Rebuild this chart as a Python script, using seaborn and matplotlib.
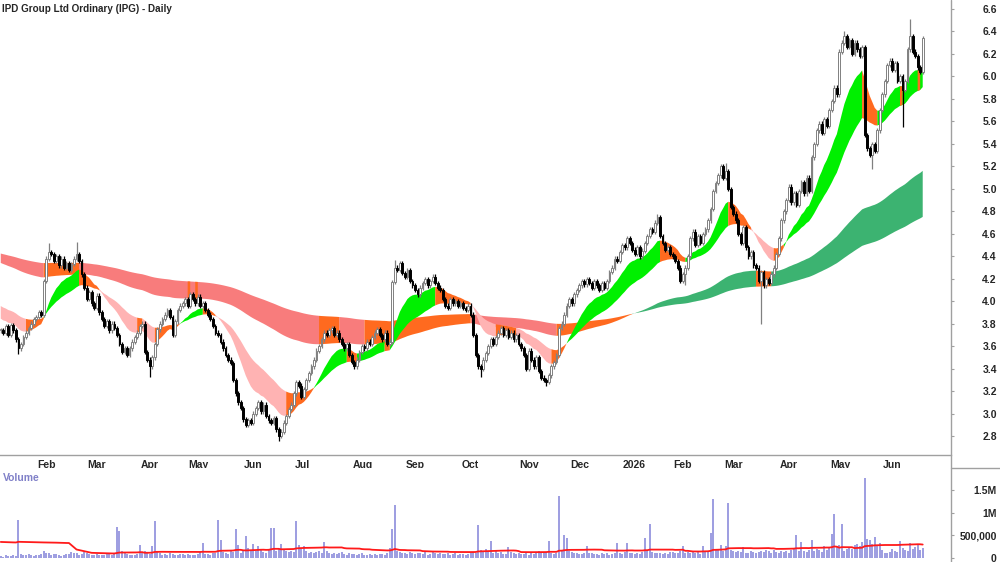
import numpy as np
import pandas as pd
import seaborn as sns
import matplotlib
matplotlib.use('Agg')
import matplotlib.pyplot as plt
import matplotlib.transforms as mtransforms
from matplotlib import font_manager
from matplotlib.lines import Line2D

# daily closes, 13 Jan 2025 .. late Jun 2026
close = [
    3.74, 3.72, 3.78, 3.70, 3.79, 3.74, 3.66, 3.58, 3.62, 3.68,
    3.72, 3.76, 3.80, 3.84, 3.86, 3.90, 3.88, 4.18, 4.38, 4.44,
    4.42, 4.36, 4.40, 4.32, 4.38, 4.30, 4.34, 4.28, 4.33, 4.38,
    4.42, 4.36, 4.24, 4.12, 4.02, 4.08, 3.98, 3.94, 4.05, 3.90,
    3.84, 3.78, 3.82, 3.74, 3.80, 3.76, 3.70, 3.62, 3.55, 3.58,
    3.52, 3.58, 3.64, 3.68, 3.72, 3.78, 3.80, 3.55, 3.48, 3.42,
    3.50, 3.62, 3.75, 3.80, 3.84, 3.88, 3.92, 3.86, 3.70, 3.82,
    3.92, 3.96, 3.98, 4.02, 3.96, 4.06, 4.02, 3.98, 4.04, 3.96,
    3.98, 3.92, 3.88, 3.84, 3.78, 3.72, 3.70, 3.64, 3.58, 3.52,
    3.48, 3.45, 3.30, 3.18, 3.10, 3.05, 2.95, 2.90, 2.94, 2.92,
    3.00, 3.05, 3.10, 3.02, 3.08, 2.98, 2.94, 2.92, 2.96, 2.86,
    2.80, 2.84, 2.92, 2.98, 3.04, 3.08, 3.18, 3.28, 3.25, 3.15,
    3.22, 3.30, 3.36, 3.42, 3.48, 3.56, 3.60, 3.66, 3.72, 3.70,
    3.74, 3.76, 3.70, 3.72, 3.66, 3.62, 3.58, 3.62, 3.52, 3.46,
    3.42, 3.48, 3.55, 3.60, 3.58, 3.64, 3.62, 3.68, 3.72, 3.75,
    3.70, 3.66, 3.72, 3.62, 3.64, 4.17, 4.30, 4.28, 4.34, 4.25,
    4.22, 4.28, 4.18, 4.14, 4.10, 4.06, 4.12, 4.16, 4.20, 4.14,
    4.18, 4.22, 4.16, 4.12, 4.10, 4.02, 3.96, 3.94, 4.02, 3.98,
    4.00, 3.96, 3.98, 3.94, 3.92, 3.96, 3.88, 3.70, 3.52, 3.42,
    3.40, 3.48, 3.54, 3.60, 3.66, 3.62, 3.68, 3.72, 3.76, 3.70,
    3.74, 3.68, 3.72, 3.66, 3.70, 3.62, 3.58, 3.52, 3.40, 3.56,
    3.48, 3.42, 3.50, 3.38, 3.32, 3.30, 3.28, 3.34, 3.42, 3.46,
    3.52, 3.76, 3.80, 3.88, 3.96, 4.02, 3.98, 4.06, 4.10, 4.14,
    4.18, 4.15, 4.20, 4.16, 4.12, 4.18, 4.14, 4.10, 4.16, 4.12,
    4.18, 4.26, 4.30, 4.38, 4.36, 4.44, 4.50, 4.48, 4.56, 4.52,
    4.46, 4.42, 4.48, 4.40, 4.45, 4.52, 4.58, 4.64, 4.62, 4.70,
    4.75, 4.58, 4.52, 4.46, 4.48, 4.42, 4.40, 4.36, 4.30, 4.18,
    4.24, 4.30, 4.40, 4.56, 4.62, 4.50, 4.58, 4.52, 4.60, 4.64,
    4.72, 4.82, 4.98, 5.05, 5.12, 5.20, 5.10, 5.16, 5.00, 4.84,
    4.78, 4.72, 4.60, 4.52, 4.66, 4.48, 4.40, 4.44, 4.32, 4.30,
    4.18, 4.26, 4.14, 4.20, 4.16, 4.24, 4.30, 4.42, 4.56, 4.72,
    4.80, 4.90, 5.02, 4.88, 4.96, 4.86, 4.98, 5.06, 4.96, 5.10,
    4.98, 5.28, 5.40, 5.52, 5.58, 5.50, 5.62, 5.56, 5.70, 5.78,
    5.90, 5.84, 6.22, 6.30, 6.36, 6.26, 6.32, 6.20, 6.30, 6.24,
    6.18, 6.26, 5.48, 5.36, 5.30, 5.40, 5.34, 5.52, 5.70, 5.84,
    5.96, 6.10, 6.14, 6.06, 6.12, 5.96, 6.00, 5.88, 5.96, 6.24,
    6.36, 6.22, 6.18, 6.08, 6.04, 6.34,
]

# daily volume in thousands
volume_k = [
    40, 30, 60, 45, 50, 70, 55, 830, 90, 70,
    60, 80, 75, 55, 65, 70, 90, 160, 120, 110,
    75, 80, 90, 60, 55, 70, 80, 95, 140, 120,
    110, 70, 90, 130, 100, 80, 60, 70, 85, 60,
    75, 65, 90, 80, 70, 110, 680, 590, 150, 120,
    80, 75, 70, 60, 95, 295, 120, 150, 110, 90,
    257, 815, 140, 100, 70, 80, 60, 110, 95, 75,
    70, 80, 95, 65, 85, 70, 60, 75, 90, 130,
    320, 95, 80, 70, 110, 100, 830, 390, 140, 120,
    90, 180, 130, 630, 280, 110, 150, 490, 230, 160,
    300, 150, 260, 180, 140, 120, 170, 670, 670, 150,
    200, 300, 180, 160, 140, 150, 130, 810, 280, 200,
    270, 160, 120, 140, 110, 130, 150, 110, 345, 150,
    120, 90, 110, 80, 100, 130, 90, 75, 110, 95,
    80, 70, 95, 110, 75, 60, 90, 70, 85, 65,
    80, 95, 70, 110, 230, 630, 1170, 150, 130, 120,
    110, 95, 130, 100, 85, 120, 110, 90, 150, 75,
    90, 130, 100, 85, 110, 80, 95, 120, 70, 85,
    100, 75, 90, 80, 70, 95, 120, 140, 110, 735,
    180, 150, 200, 130, 370, 120, 150, 110, 140, 90,
    80, 240, 130, 100, 90, 110, 85, 95, 140, 75,
    100, 90, 110, 160, 130, 120, 140, 370, 110, 90,
    100, 1360, 150, 500, 450, 160, 130, 120, 100, 90,
    85, 110, 257, 120, 100, 95, 80, 70, 110, 90,
    100, 75, 95, 120, 330, 110, 90, 130, 330, 120,
    100, 85, 110, 90, 130, 430, 150, 740, 140, 110,
    120, 100, 95, 110, 85, 130, 140, 100, 120, 150,
    257, 110, 130, 100, 160, 120, 140, 90, 257, 150,
    130, 560, 1290, 200, 180, 290, 160, 260, 1220, 180,
    150, 130, 160, 140, 250, 120, 100, 150, 130, 110,
    140, 160, 130, 180, 150, 120, 170, 140, 110, 160,
    130, 150, 120, 180, 210, 500, 150, 345, 160, 130,
    180, 400, 150, 200, 170, 140, 260, 180, 220, 520,
    977, 240, 280, 757, 160, 190, 230, 200, 280, 310,
    270, 350, 1770, 420, 400, 300, 470, 260, 330, 180,
    110, 120, 140, 200, 160, 130, 365, 220, 180, 150,
    320, 190, 250, 310, 170, 210,
]

# sessions before the first bar, only used to start the 50 day volume average
vol_pre_k = [
    150, 120, 180, 140, 160, 130, 110, 170, 150, 140,
    160, 130, 150, 170, 120, 140, 180, 150, 130, 160,
    140, 150, 170, 140, 160, 130, 150,
    2500, 2600, 2400,
    700, 750, 680, 720, 650, 700,
    160, 140, 180, 150, 130, 170, 150, 160, 140, 120, 150, 130, 160,
]

# long wicks visible on the chart (bar index: price)
wick_high = {19: 4.52, 30: 4.53, 156: 4.37, 260: 4.78, 287: 5.23, 334: 6.40, 360: 6.51}
wick_low = {7: 3.53, 59: 3.33, 110: 2.76, 190: 3.33, 216: 3.25, 271: 4.14,
            301: 3.80, 345: 5.18, 357: 5.55}

# moving average levels at the left edge (fast, slow)
short_seed = (3.86, 3.97)
long_seed = (4.35, 4.43)

asx_holidays = ['2025-01-27', '2025-04-18', '2025-04-21', '2025-04-25', '2025-06-09',
                '2025-12-25', '2025-12-26', '2026-01-01', '2026-01-26', '2026-04-03',
                '2026-04-06', '2026-06-08']

dates = pd.bdate_range('2025-01-13', periods=len(close), freq='C', holidays=asx_holidays)
df = pd.DataFrame({'date': dates, 'close': close, 'volume': np.array(volume_k) * 1000.0})
df['i'] = np.arange(len(df))
df['open'] = df['close'].shift(1).fillna(df['close'])
df['high'] = df[['open', 'close']].max(axis=1) + 0.02
df['low'] = df[['open', 'close']].min(axis=1) - 0.02
for k, v in wick_high.items():
    df.loc[k, 'high'] = v
for k, v in wick_low.items():
    df.loc[k, 'low'] = v

vol_all = pd.Series(np.r_[vol_pre_k, volume_k] * 1000.0)
df['vol_ma'] = vol_all.rolling(50).mean().iloc[len(vol_pre_k):].to_numpy()


def ema(span, seed):
    s = pd.concat([pd.Series([seed]), df['close']], ignore_index=True)
    return s.ewm(span=span, adjust=False).mean().to_numpy()


def draw_band(ax, fast, slow, up_col, down_col, mixed_col):
    # fast / slow include the seed as element 0
    rising = np.diff(fast) > 0
    fast, slow = fast[1:], slow[1:]
    above = fast > slow
    lo, hi = np.minimum(fast, slow), np.maximum(fast, slow)
    state = np.where(above & rising, 0, np.where(~above & ~rising, 1, 2))
    for k, c in enumerate([up_col, down_col, mixed_col]):
        m = state == k
        m = m | np.r_[m[1:], False]
        ax.fill_between(df['i'], lo, hi, where=m, color=c, lw=0, zorder=1)


sns.set_theme(style='white')
names = {f.name for f in font_manager.fontManager.ttflist}
narrow = 'Liberation Sans Narrow' in names
plt.rcParams['font.family'] = ['Liberation Sans Narrow', 'Liberation Sans', 'DejaVu Sans']
fs = 9 if narrow else 7.5

fig = plt.figure(figsize=(10, 5.62), dpi=100)
ax = fig.add_axes([0, 107 / 562, 0.951, 455 / 562])
axv = fig.add_axes([0, 0, 0.951, 94 / 562])

GREEN, ORANGE, PINK = '#00f000', '#ff6a1f', '#ffb3b3'
RED, DKGREEN = '#f87c7c', '#3cb371'

draw_band(ax, ema(130, long_seed[0]), ema(240, long_seed[1]), DKGREEN, RED, ORANGE)
draw_band(ax, ema(15, short_seed[0]), ema(35, short_seed[1]), GREEN, PINK, ORANGE)

up = df['close'] >= df['open']
body = (df['close'] - df['open']).abs().clip(lower=0.01)
ax.vlines(df['i'][up], df['low'][up], df['high'][up], color='#808080', lw=0.9, zorder=3)
ax.vlines(df['i'][~up], df['low'][~up], df['high'][~up], color='black', lw=0.9, zorder=3)
ax.bar(df['i'][up], body[up], bottom=df['open'][up], width=0.72,
       color='white', edgecolor='#808080', lw=0.7, zorder=4)
ax.bar(df['i'][~up], body[~up], bottom=df['close'][~up], width=0.72,
       color='black', edgecolor='black', lw=0.7, zorder=4)

xlim = (-0.3, 376.2)
ax.set_xlim(*xlim)
ax.set_ylim(2.632, 6.68)

# month ticks
first = df.groupby(df['date'].dt.to_period('M'))['i'].min().iloc[1:]
labels = [str(p.year) if p.month == 1 else p.strftime('%b') for p in first.index]
ax.set_xticks(first.to_numpy())
ax.set_xticklabels(labels, fontsize=fs, fontweight='bold')
ax.tick_params(axis='x', direction='out', length=3, width=0.8, color='#a0a0a0', pad=0.5)
offset = mtransforms.ScaledTranslation(0.7 / 72, 0, fig.dpi_scale_trans)
for lab in ax.get_xticklabels():
    lab.set_ha('left')
    lab.set_transform(lab.get_transform() + offset)

yt = np.round(np.arange(2.8, 6.61, 0.2), 1)
ax.set_yticks(yt)
ax.set_yticklabels([f'{v:.1f}' for v in yt], fontsize=fs, fontweight='bold')
ax.yaxis.tick_right()
ax.tick_params(axis='y', direction='out', length=2, width=0.8, color='#a0a0a0', pad=31)
for lab in ax.get_yticklabels():
    lab.set_ha('right')

for s in ['top', 'left', 'right']:
    ax.spines[s].set_visible(False)
ax.spines['bottom'].set_color('#a0a0a0')
ax.spines['bottom'].set_linewidth(1.0)

# volume panel
axv.vlines(df['i'], 0, df['volume'], color='#8282d8', lw=1.1)
sns.lineplot(data=df, x='i', y='vol_ma', ax=axv, color='#ff1a1a', lw=1.3)
axv.set_xlim(*xlim)
axv.set_ylim(-88000, 1.98e6)
axv.set_xticks([])
axv.set_xlabel('')
axv.set_ylabel('')
axv.set_yticks([0, 5e5, 1e6, 1.5e6])
axv.set_yticklabels(['0', '500,000', '1M', '1.5M'], fontsize=fs, fontweight='bold')
axv.yaxis.tick_right()
axv.tick_params(axis='y', direction='out', length=2, width=0.8, color='#a0a0a0', pad=31)
for lab in axv.get_yticklabels():
    lab.set_ha('right')
for s in axv.spines.values():
    s.set_visible(False)

fig.add_artist(Line2D([0.951, 0.951], [0, 1], transform=fig.transFigure, color='#a0a0a0', lw=1.0))
fig.add_artist(Line2D([0.951, 1.0], [1 - 468 / 562] * 2, transform=fig.transFigure, color='#a0a0a0', lw=1.0))

fig.text(0.002, 1 - 9 / 562, 'IPD Group Ltd Ordinary (IPG) - Daily', fontsize=fs - 0.4,
         fontweight='bold', va='center', ha='left')
fig.text(0.003, 1 - 478 / 562, 'Volume', fontsize=fs, fontweight='bold', color='#8080c8',
         va='center', ha='left')

fig.savefig('out.png', dpi=100)
